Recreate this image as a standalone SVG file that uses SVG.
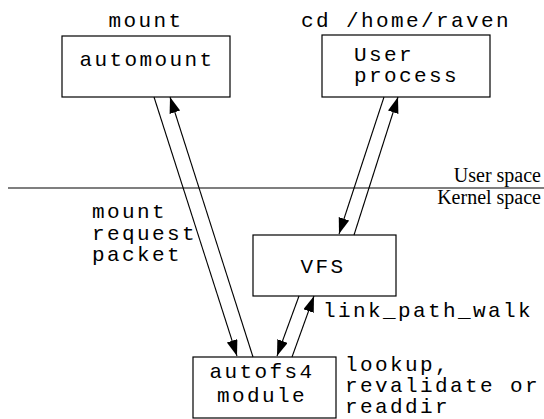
<svg xmlns="http://www.w3.org/2000/svg" width="544" height="419" viewBox="0 0 544 419">
<style>
.box{fill:#fff;stroke:#000;stroke-width:1.2}
.m{font-family:"Liberation Mono","Courier New",monospace;font-size:21px;letter-spacing:2.4px;fill:#000}
.c{text-anchor:middle}
.t{font-family:"Liberation Serif","Times New Roman",serif;font-size:20px;fill:#000;text-anchor:end}
.ln{stroke:#000;stroke-width:1.1;fill:none}
</style>
<defs>
<marker id="ah" markerUnits="userSpaceOnUse" markerWidth="17" markerHeight="12" refX="16" refY="5.5" orient="auto">
<path d="M0,0 L16,5.5 L0,11 z" fill="#000"/>
</marker>
</defs>
<rect width="544" height="419" fill="#fff"/>
<line x1="8" y1="188" x2="544" y2="188" class="ln"/>
<text class="t" x="541" y="182">User space</text>
<text class="t" x="541" y="204">Kernel space</text>
<g id="automount">
<rect class="box" x="62" y="36" width="168" height="61"/>
<text class="m c" x="147" y="66">automount</text>
<text class="m c" x="146" y="27">mount</text>
</g>
<g id="userprocess">
<rect class="box" x="322" y="35" width="168" height="62"/>
<text class="m" x="354" y="61">User</text>
<text class="m" x="354" y="82">process</text>
<text class="m c" x="406" y="27">cd /home/raven</text>
</g>
<g id="vfs">
<rect class="box" x="253" y="235" width="143" height="61"/>
<text class="m c" x="323" y="273">VFS</text>
</g>
<g id="autofs4">
<rect class="box" x="193" y="357" width="143" height="61"/>
<text class="m c" x="262" y="378">autofs4</text>
<text class="m c" x="262" y="402">module</text>
</g>
<g id="connectors">
<line class="ln" x1="154" y1="97" x2="237" y2="356" marker-end="url(#ah)"/>
<line class="ln" x1="253" y1="357" x2="170" y2="97" marker-end="url(#ah)"/>
<line class="ln" x1="384" y1="97" x2="339" y2="234" marker-end="url(#ah)"/>
<line class="ln" x1="354" y1="235" x2="398" y2="97" marker-end="url(#ah)"/>
<line class="ln" x1="299" y1="296" x2="277" y2="356" marker-end="url(#ah)"/>
<line class="ln" x1="292" y1="357" x2="314" y2="296" marker-end="url(#ah)"/>
</g>
<g id="labels">
<text class="m" x="92" y="218">mount</text>
<text class="m" x="92" y="240">request</text>
<text class="m" x="92" y="261">packet</text>
<text class="m" x="323" y="317">link_path_walk</text>
<text class="m" x="345" y="371">lookup,</text>
<text class="m" x="345" y="392">revalidate or</text>
<text class="m" x="345" y="413">readdir</text>
</g>
</svg>
